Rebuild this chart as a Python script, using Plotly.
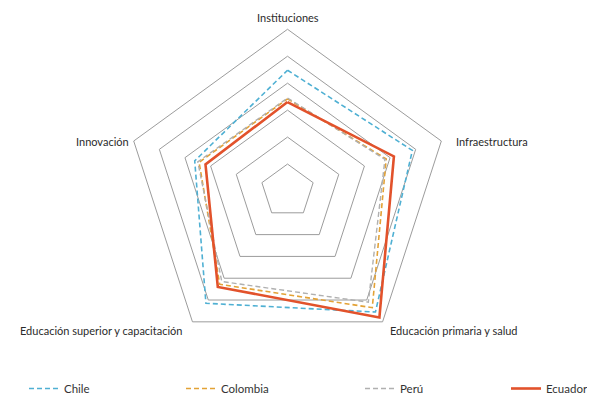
import plotly.graph_objects as go

categories = ["Instituciones", "Infraestructura", "Educación primaria y salud",
              "Educación superior y capacitación", "Innovación"]
chile = [4.48, 4.87, 5.55, 5.15, 3.62]
colombia = [3.42, 3.85, 5.35, 4.28, 3.45]
peru = [3.45, 3.80, 5.10, 4.15, 3.50]
ecuador = [3.30, 4.15, 5.80, 4.40, 3.20]
ring_ticks = [1, 2, 3, 4, 5, 6]

series = [
    ("Chile", chile, "#4fb0d3", 1.6, "5px,3px", "legend"),
    ("Colombia", colombia, "#e3a236", 1.6, "5px,3px", "legend2"),
    ("Perú", peru, "#b0b0b0", 1.4, "5px,3px", "legend3"),
    ("Ecuador", ecuador, "#e2522b", 2.6, "solid", "legend4"),
]

# page body has an 8px default margin; work in figure pixels
W, H = 587, 395
cx, cy, R = 280, 183, 162

fig = go.Figure()
for name, vals, color, width, dash, lg in series:
    fig.add_trace(go.Scatterpolar(
        r=vals + vals[:1],
        theta=categories + categories[:1],
        mode="lines",
        name=name,
        legend=lg,
        line=dict(color=color, width=width, dash=dash),
    ))

legend_font = dict(family="Lato", size=11.5, color="#333333")
legend_x = {"legend": 16, "legend2": 173, "legend3": 352, "legend4": 499}
legends = {k: dict(x=v / W, y=0.0, xanchor="left", yanchor="bottom",
                   orientation="h", font=legend_font, bgcolor="rgba(0,0,0,0)")
           for k, v in legend_x.items()}
legends["legend4"].update(entrywidth=44, entrywidthmode="pixels")

fig.update_layout(
    width=W, height=H,
    margin=dict(l=0, r=0, t=0, b=0),
    paper_bgcolor="white",
    plot_bgcolor="white",
    font=dict(family="Lato", size=11, color="#333333"),
    polar=dict(
        domain=dict(x=[(cx - R) / W, (cx + R) / W],
                    y=[(H - cy - R) / H, (H - cy + R) / H]),
        gridshape="linear",
        bgcolor="white",
        radialaxis=dict(range=[0, 6], tickvals=ring_ticks, showticklabels=False,
                        showline=False, ticks="", gridcolor="#9c9c9c", gridwidth=1),
        angularaxis=dict(rotation=90, direction="clockwise", showgrid=False,
                         showticklabels=False, ticks="", linecolor="#9c9c9c",
                         linewidth=1),
    ),
    showlegend=True,
    **legends,
)

label_pos = [
    ("Instituciones", 280, 9, "center"),
    ("Infraestructura", 447, 133, "left"),
    ("Educación primaria y salud", 381, 322, "left"),
    ("Educación superior y capacitación", 176, 322, "right"),
    ("Innovación", 123, 133, "right"),
]
for txt, x, y, anchor in label_pos:
    fig.add_annotation(text=txt, x=x / W, y=1 - y / H, xref="paper", yref="paper",
                       xanchor=anchor, yanchor="middle", showarrow=False,
                       font=dict(family="Lato", size=11, color="#2b2b2b"))

fig.write_html("out.html")
